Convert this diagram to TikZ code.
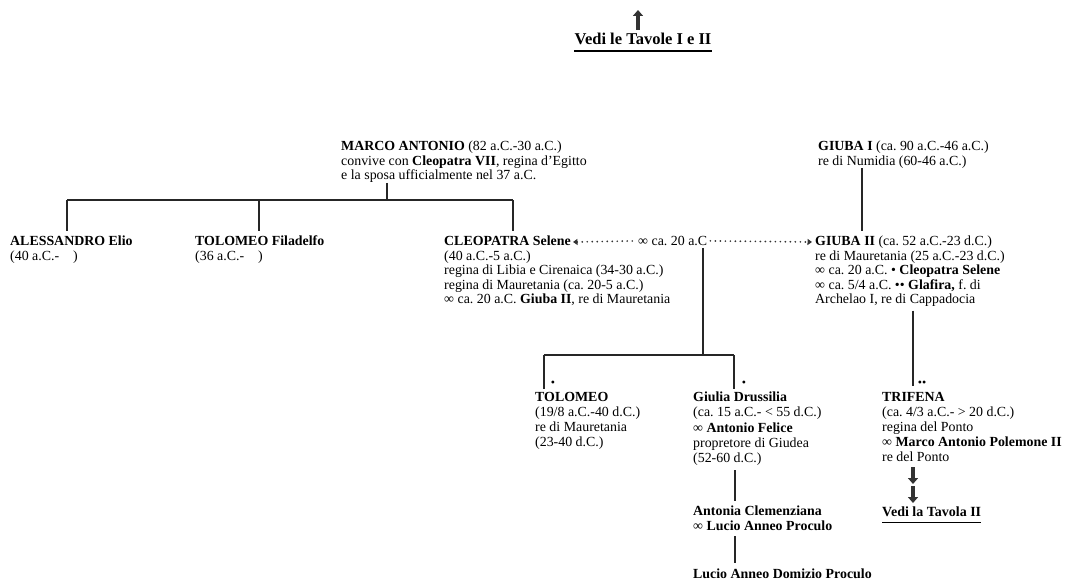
\documentclass[tikz,border=0pt]{standalone}
\usepackage{fontspec}
\setmainfont{Liberation Serif}
\usetikzlibrary{arrows.meta}
\newcommand{\bodyfont}{\fontsize{13.9}{14.4}\selectfont}
\newcommand{\lowfont}{\fontsize{13.9}{15.1}\selectfont}
\tikzset{
  txt/.style={anchor=north west, inner sep=0pt, align=left, font=\bodyfont},
  txtlow/.style={anchor=north west, inner sep=0pt, align=left, font=\lowfont},
  ln/.style={line width=1.5pt, draw=black!85},
  dotline/.style={line width=1.9pt, line cap=round, dash pattern=on 0pt off 5pt, draw=black!80},
  bigarrow/.style={line width=3.6pt, draw=black!80, -{Triangle[width=10pt,length=6pt]}},
  bul/.style={inner sep=0pt, font=\fontsize{12}{12}\selectfont},
}
\begin{document}
\frenchspacing
\begin{tikzpicture}[x=1pt,y=-1pt]
\useasboundingbox[fill=white] (0,0) rectangle (1065,583);

% top reference
\node[anchor=center, inner sep=0pt, font=\fontsize{16.5}{16.5}\selectfont\bfseries] (tav1) at (643,39) {Vedi le Tavole I e II};
\draw[line width=1.1pt] ([yshift=-6pt]tav1.south west) -- ([yshift=-6pt]tav1.south east);
\coordinate (up) at (638,10);
\draw[bigarrow] (up |- tav1.north) ++(0,-3) -- (up);

% Marco Antonio
\node[txt] (ma) at (341,141) {\textbf{MARCO ANTONIO} (82 a.C.-30 a.C.)\\
convive con \textbf{Cleopatra VII}, regina d'Egitto\\
e la sposa ufficialmente nel 37 a.C.};

% Giuba I
\node[txt] (g1) at (818,141) {\textbf{GIUBA I} (ca. 90 a.C.-46 a.C.)\\re di Numidia (60-46 a.C.)};

% children of Marco Antonio
\node[txt] (ale) at (10,236) {\textbf{ALESSANDRO Elio}\\(40 a.C.-\hspace{14pt})};
\node[txt] (tfil) at (195,236) {\textbf{TOLOMEO Filadelfo}\\(36 a.C.-\hspace{14pt})};
\node[txt] (cs) at (444,236) {\textbf{CLEOPATRA Selene}\\
(40 a.C.-5 a.C.)\\
regina di Libia e Cirenaica (34-30 a.C.)\\
regina di Mauretania (ca. 20-5 a.C.)\\
∞ ca. 20 a.C. \textbf{Giuba II}, re di Mauretania};

% marriage label
\node[txt] (mar) at (638,236) {∞ ca. 20 a.C};

% Giuba II
\node[txt] (g2) at (815,236) {\textbf{GIUBA II} (ca. 52 a.C.-23 d.C.)\\
re di Mauretania (25 a.C.-23 d.C.)\\
∞ ca. 20 a.C. • \textbf{Cleopatra Selene}\\
∞ ca. 5/4 a.C. •• \textbf{Glafira,} f. di\\
Archelao I, re di Cappadocia};

% grandchildren
\node[txtlow] (tol) at (535,392) {\textbf{TOLOMEO}\\(19/8 a.C.-40 d.C.)\\re di Mauretania\\(23-40 d.C.)};
\node[txtlow] (giu) at (693,392) {\textbf{Giulia Drussilia}\\(ca. 15 a.C.- < 55 d.C.)\\∞ \textbf{Antonio Felice}\\propretore di Giudea\\(52-60 d.C.)};
\node[txtlow] (tri) at (882,392) {\textbf{TRIFENA}\\(ca. 4/3 a.C.- > 20 d.C.)\\regina del Ponto\\∞ \textbf{Marco Antonio Polemone II}\\re del Ponto};

\node[bul] (b1) at (553,384) {•};
\node[bul] (b2) at (744,384) {•};
\node[bul] (b3) at (922,384) {••};

\node[txtlow] (ant) at (693,506) {\textbf{Antonia Clemenziana}\\∞ \textbf{Lucio Anneo Proculo}};
\node[txtlow] (luc) at (693,569) {\textbf{Lucio Anneo Domizio Proculo}};

\node[anchor=north west, inner sep=0pt, font=\fontsize{14}{14}\selectfont\bfseries] (tav2) at (882,507) {Vedi la Tavola II};
\draw[line width=1pt] ([yshift=-5pt]tav2.south west) -- ([yshift=-5pt]tav2.south east);

% connectors Marco Antonio
\coordinate (jMA) at (387,200);
\coordinate (jA) at (67,200);
\coordinate (jT) at (259,200);
\coordinate (jC) at (513,200);
\draw[ln] (jMA |- ma.south) -- (jMA);
\draw[ln] (jA) -- (jC);
\draw[ln, shorten >=5pt] (jA) -- (jA |- ale.north);
\draw[ln, shorten >=5pt] (jT) -- (jT |- tfil.north);
\draw[ln, shorten >=5pt] (jC) -- (jC |- cs.north);

% Giuba I to Giuba II
\coordinate (xg1) at (862,200);
\draw[ln, shorten >=5pt] (xg1 |- g1.south) -- (xg1 |- g2.north);

% marriage dotted arrows
\coordinate (cse) at (573,242);
\coordinate (g2w) at (812,242);
\draw[dotline, {Triangle[width=6pt,length=4.5pt]}-] (cse) -- ([xshift=-2pt]mar.west);
\draw[dotline, -{Triangle[width=6pt,length=4.5pt]}] ([xshift=3pt]mar.east) -- (g2w);

% children of the couple
\coordinate (jK) at (703,355);
\coordinate (jTo) at (544,355);
\coordinate (jGi) at (734,355);
\draw[ln] (jK |- mar.south) ++(0,2) -- (jK);
\draw[ln] (jTo) -- (jGi);
\draw[ln, shorten >=3pt] (jTo) -- (jTo |- tol.north);
\draw[ln, shorten >=3pt] (jGi) -- (jGi |- giu.north);

% Giuba II to Trifena
\coordinate (xg2) at (913,300);
\draw[ln, shorten <=4pt, shorten >=6pt] (xg2 |- g2.south) -- (xg2 |- tri.north);

% Giulia to Antonia to Lucio
\coordinate (xgi) at (735,400);
\draw[ln, shorten <=5pt, shorten >=5pt] (xgi |- giu.south) -- (xgi |- ant.north);
\draw[ln, shorten <=5pt, shorten >=6pt] (xgi |- ant.south) -- (xgi |- luc.north);

% arrows to Tavola II
\coordinate (da) at (913,467);
\coordinate (db) at (913,484);
\coordinate (dc) at (913,486);
\draw[bigarrow] (da) -- (db);
\draw[bigarrow, shorten >=4pt] (dc) -- (dc |- tav2.north);
\end{tikzpicture}
\end{document}
